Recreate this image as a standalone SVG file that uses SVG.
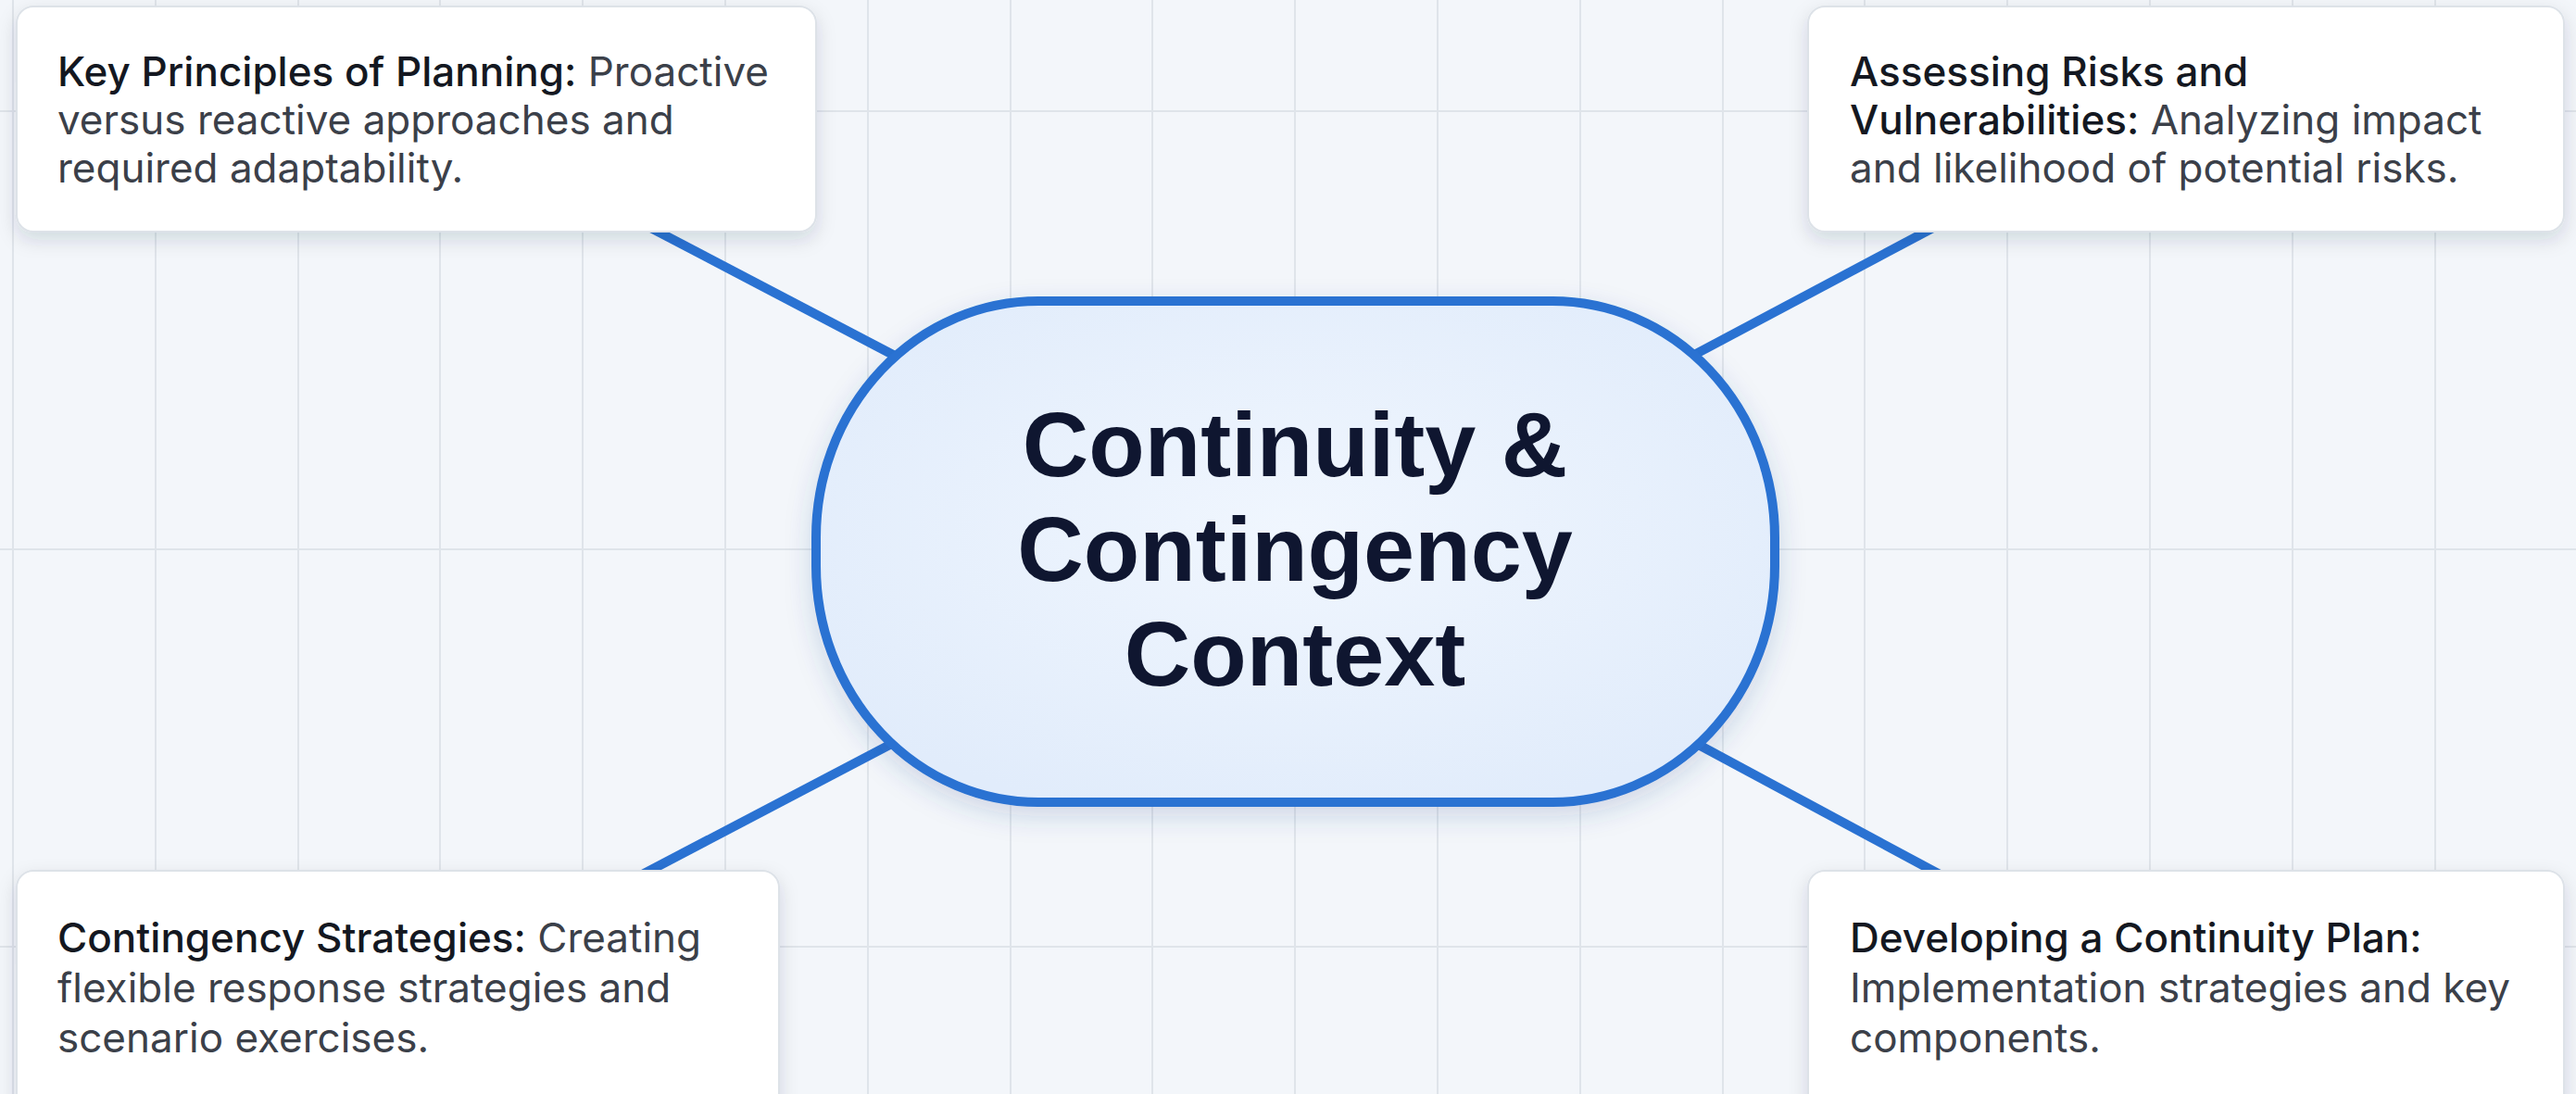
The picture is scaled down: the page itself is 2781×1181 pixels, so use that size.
<svg xmlns="http://www.w3.org/2000/svg" width="2781" height="1181" viewBox="0 0 2781 1181">
<style>
.grid line{stroke:#dfe4ea;stroke-width:2}
.conn line{stroke:#2a72d2;stroke-width:10;stroke-linecap:butt}
.box{fill:#ffffff;stroke:#dde2e8;stroke-width:2}
.t{font-family:Inter,"Noto Sans",sans-serif;font-size:44px}
.h{font-weight:500;fill:#141821}
.b{font-weight:400;fill:#3b4049}
.ct{font-family:"Liberation Sans",Arial,sans-serif;font-weight:bold;font-size:99px;fill:#0f1630;text-anchor:middle}
</style>
<defs>
<filter id="sh" x="-10%" y="-20%" width="120%" height="150%">
<feDropShadow dx="0" dy="8" stdDeviation="10" flood-color="#1b2a44" flood-opacity="0.14"/>
</filter>
<filter id="sh2" x="-10%" y="-10%" width="120%" height="130%">
<feDropShadow dx="0" dy="10" stdDeviation="14" flood-color="#1b4a8a" flood-opacity="0.18"/>
</filter>
<radialGradient id="cg" cx="50%" cy="45%" r="60%">
<stop offset="0" stop-color="#f0f6fe"/>
<stop offset="1" stop-color="#e1ecfb"/>
</radialGradient>
</defs>
<rect width="2781" height="1181" fill="#f3f6fa"/>
<g class="grid">
<line x1="14" y1="0" x2="14" y2="1181"/><line x1="168" y1="0" x2="168" y2="1181"/><line x1="322" y1="0" x2="322" y2="1181"/><line x1="475" y1="0" x2="475" y2="1181"/><line x1="629" y1="0" x2="629" y2="1181"/><line x1="783" y1="0" x2="783" y2="1181"/><line x1="937" y1="0" x2="937" y2="1181"/><line x1="1091" y1="0" x2="1091" y2="1181"/><line x1="1244" y1="0" x2="1244" y2="1181"/><line x1="1398" y1="0" x2="1398" y2="1181"/><line x1="1552" y1="0" x2="1552" y2="1181"/><line x1="1706" y1="0" x2="1706" y2="1181"/><line x1="1860" y1="0" x2="1860" y2="1181"/><line x1="2013" y1="0" x2="2013" y2="1181"/><line x1="2167" y1="0" x2="2167" y2="1181"/><line x1="2321" y1="0" x2="2321" y2="1181"/><line x1="2475" y1="0" x2="2475" y2="1181"/><line x1="2629" y1="0" x2="2629" y2="1181"/>
<line x1="0" y1="120" x2="2781" y2="120"/><line x1="0" y1="593" x2="2781" y2="593"/><line x1="0" y1="1022" x2="2781" y2="1022"/>
</g>
<g id="connectors" class="conn">
<line x1="672" y1="230" x2="1050" y2="428"/>
<line x1="2117" y1="230" x2="1750" y2="425"/>
<line x1="663" y1="960" x2="1050" y2="757"/>
<line x1="2124" y1="960" x2="1750" y2="759"/>
</g>
<g id="center">
<rect x="881" y="325" width="1035" height="541" rx="240" ry="255" fill="url(#cg)" stroke="#2a72d2" stroke-width="10" filter="url(#sh2)"/>
<text class="ct" x="1398" y="514">Continuity &amp;</text>
<text class="ct" x="1398" y="627">Contingency</text>
<text class="ct" x="1398" y="740">Context</text>
</g>
<g id="n-principles">
<rect class="box" x="18" y="7" width="863" height="243" rx="18" filter="url(#sh)"/>
<text class="t" x="62" y="93"><tspan class="h">Key Principles of Planning:</tspan><tspan class="b"> Proactive</tspan></text>
<text class="t b" x="62" y="145">versus reactive approaches and</text>
<text class="t b" x="62" y="197">required adaptability.</text>
</g>
<g id="n-risks">
<rect class="box" x="1952" y="7" width="816" height="243" rx="18" filter="url(#sh)"/>
<text class="t h" x="1997" y="93">Assessing Risks and</text>
<text class="t" x="1997" y="145"><tspan class="h">Vulnerabilities:</tspan><tspan class="b"> Analyzing impact</tspan></text>
<text class="t b" x="1997" y="197">and likelihood of potential risks.</text>
</g>
<g id="n-strategies">
<rect class="box" x="18" y="940" width="823" height="260" rx="18" filter="url(#sh)"/>
<text class="t" x="62" y="1028"><tspan class="h">Contingency Strategies:</tspan><tspan class="b"> Creating</tspan></text>
<text class="t b" x="62" y="1082">flexible response strategies and</text>
<text class="t b" x="62" y="1136">scenario exercises.</text>
</g>
<g id="n-plan">
<rect class="box" x="1952" y="940" width="816" height="260" rx="18" filter="url(#sh)"/>
<text class="t h" x="1997" y="1028">Developing a Continuity Plan:</text>
<text class="t b" x="1997" y="1082">Implementation strategies and key</text>
<text class="t b" x="1997" y="1136">components.</text>
</g>
</svg>
